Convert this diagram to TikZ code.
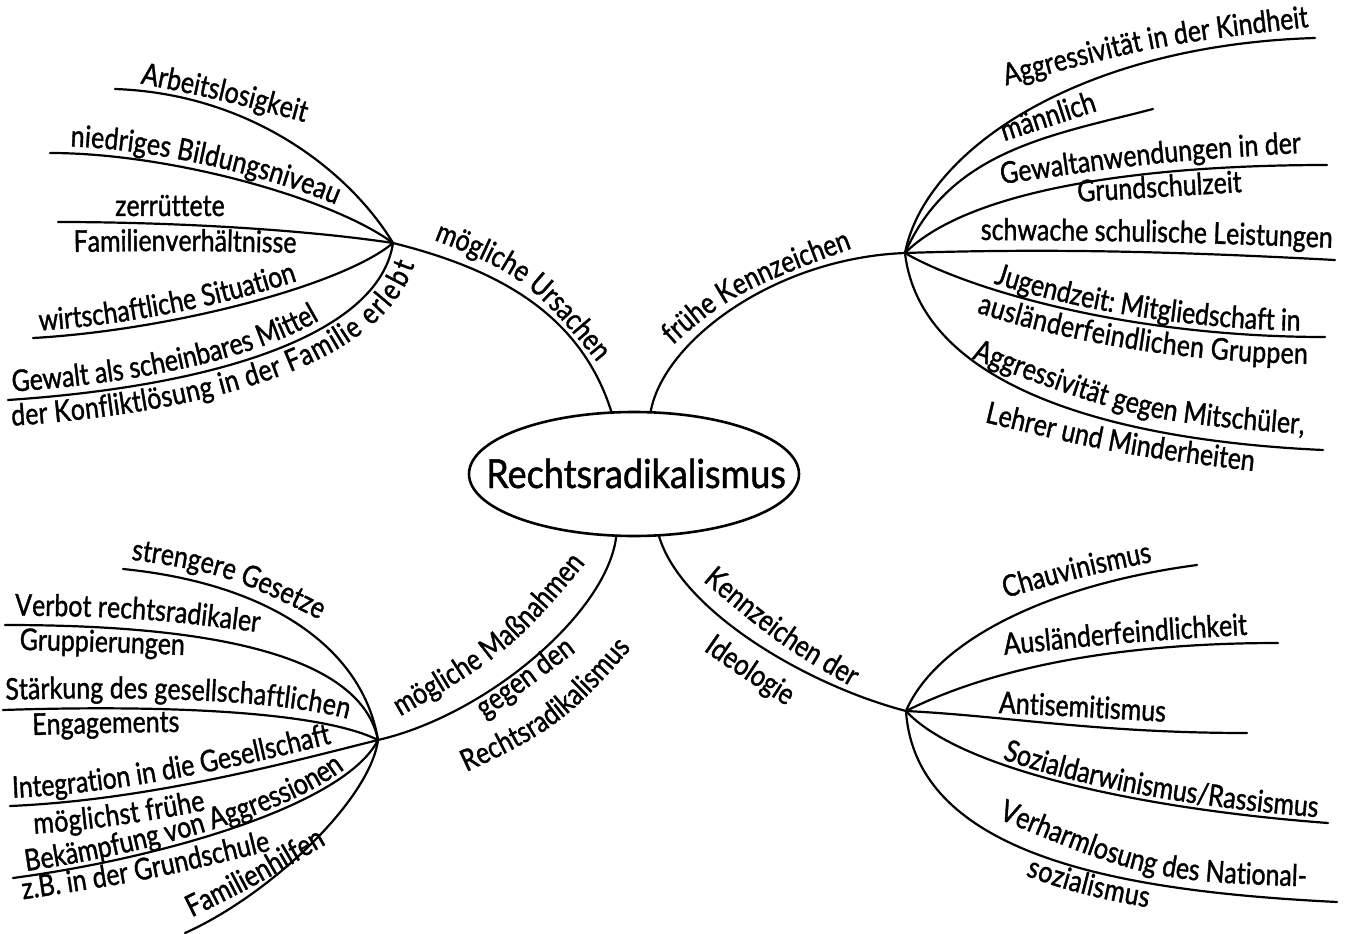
\documentclass[tikz,border=0pt]{standalone}
\usepackage{fontspec}
\setmainfont{Lato}
\newfontfamily\handfont{Lato}[FakeStretch=0.83,FakeBold=1.2]
\newfontfamily\titlefont{Lato}[FakeStretch=0.9,FakeBold=1.2]
\usetikzlibrary{calc,decorations.text,shapes.geometric}
\newcommand\labfont{\handfont\fontsize{30}{32}\selectfont}
% label along its own curved baseline: start, middle, end, text
\newcommand\lbl[4]{%
  \coordinate (ls) at ($(#1)!-30pt!(#2)$);
  \coordinate (le) at ($(#3)!-30pt!(#2)$);
  \path[decorate,decoration={text along path,text align=center,text={|\labfont|#4}}]
    (ls) .. controls ($1.33333*(#2)-0.166667*(ls)-0.166667*(le)$) .. (le);
}
\tikzset{
  br/.style={draw,line width=2.2pt,line cap=round},
  ol/.style n args={3}{postaction={decorate,decoration={text along path,raise=#1,text align={#2},text={|\labfont|#3}}}},
  rootshape/.style={ellipse,draw,line width=2.6pt,minimum width=330pt,minimum height=124pt,inner sep=0pt,outer sep=0pt},
  titletext/.style={font=\titlefont\fontsize{40}{42}\selectfont,anchor=base,inner sep=0pt}
}
\begin{document}
\begin{tikzpicture}[x=1pt,y=-1pt]
\fill[white] (0,0) rectangle (1350,934);
\useasboundingbox (0,0) rectangle (1350,934);

% centre
\node[rootshape] (root) at (634,474) {};
\node[titletext] (title) at (636,488) {Rechtsradikalismus};

% hubs
\coordinate (H1) at (393,243);
\coordinate (H2) at (905,253);
\coordinate (H3) at (378,740);
\coordinate (H4) at (906,711);

% main branches
\draw[br] (H1) .. controls (493,268) and (580,311) .. (root.110);
\draw[br] (root.75) .. controls (663,341) and (775,258) .. (H2);
\draw[br] (H3) .. controls (487,715) and (608,612) .. (root.254);
\draw[br] (root.292) .. controls (680,610) and (806,685) .. (H4);

% upper left
\coordinate (a1) at (115,89);
\coordinate (a2) at (50,153);
\coordinate (a3) at (58,222);
\coordinate (a4) at (33,338);
\coordinate (a5) at (8,400);
\draw[br] (a1) .. controls (255,94) and (352,175) .. (H1);
\draw[br,ol={7pt}{left indent=20pt}{niedriges Bildungsniveau}] (a2) .. controls (170,153) and (332,198) .. (H1);
\draw[br] (a3) .. controls (158,222) and (293,228) .. (H1);
\draw[br,ol={7pt}{left indent=7pt}{wirtschaftliche Situation}] (a4) .. controls (173,330) and (343,285) .. (H1);
\draw[br,ol={8pt}{left indent=5pt}{Gewalt als scheinbares Mittel},
         ol={-26pt}{left indent=2pt}{der Konfliktlösung in der Familie erlebt}]
   (a5) .. controls (230,385) and (380,330) .. (H1);

% upper right
\coordinate (b1) at (1315,38);
\coordinate (b2) at (1153,109);
\coordinate (b3) at (1327,165);
\coordinate (b4) at (1335,260);
\coordinate (b5) at (1325,337);
\coordinate (b6) at (1323,450);
\draw[br] (H2) .. controls (925,150) and (1080,45) .. (b1);
\draw[br] (H2) .. controls (950,150) and (1053,135) .. (b2);
\draw[br] (H2) .. controls (965,193) and (1127,165) .. (b3);
\draw[br] (H2) .. controls (1055,248) and (1185,252) .. (b4);
\draw[br,ol={6pt}{right,right indent=25pt}{Jugendzeit: Mitgliedschaft in},
         ol={-27pt}{right,right indent=17pt}{ausländerfeindlichen Gruppen}]
   (H2) .. controls (965,288) and (1125,337) .. (b5);
\draw[br] (H2) .. controls (920,383) and (1103,440) .. (b6);

% lower left
\coordinate (c1) at (123,569);
\coordinate (c2) at (5,625);
\coordinate (c3) at (3,710);
\coordinate (c4) at (10,806);
\coordinate (c5) at (13,878);
\coordinate (c6) at (185,933);
\draw[br] (c1) .. controls (273,584) and (363,650) .. (H3);
\draw[br] (c2) .. controls (155,625) and (358,640) .. (H3);
\draw[br,ol={10pt}{left indent=3pt}{Stärkung des gesellschaftlichen}] (c3) .. controls (153,705) and (318,710) .. (H3);
\draw[br,ol={8pt}{left indent=3pt}{Integration in die Gesellschaft},
         ol={-29pt}{left indent=22pt}{möglichst frühe}]
   (c4) .. controls (150,800) and (290,762) .. (H3);
\draw[br,ol={5pt}{left indent=14pt}{Bekämpfung von Aggressionen}]
   (c5) .. controls (163,858) and (345,805) .. (H3);
\draw[br] (c6) .. controls (270,895) and (370,800) .. (H3);

% lower right
\coordinate (d1) at (1197,565);
\coordinate (d2) at (1278,643);
\coordinate (d3) at (1247,733);
\coordinate (d4) at (1328,823);
\coordinate (d5) at (1337,902);
\draw[br] (H4) .. controls (936,641) and (1047,585) .. (d1);
\draw[br] (H4) .. controls (966,681) and (1078,643) .. (d2);
\draw[br] (H4) .. controls (1006,716) and (1097,733) .. (d3);
\draw[br,ol={5pt}{right,right indent=11pt}{Sozialdarwinismus/Rassismus}] (H4) .. controls (956,766) and (1128,808) .. (d4);
\draw[br,ol={-24pt}{right,right indent=186pt}{sozialismus}] (H4) .. controls (916,861) and (1137,892) .. (d5);

% main labels
\lbl{423,238}{522,283}{603,372}{mögliche Ursachen}
\lbl{665,355}{738,296}{864,245}{frühe Kennzeichen}
\lbl{388,722}{506,648}{593,552}{mögliche Maßnahmen}
\lbl{483,720}{530,686}{578,650}{gegen den}
\lbl{445,780}{557,722}{645,630}{Rechtsradikalismus}
\lbl{705,582}{780,643}{850,685}{Kennzeichen der}
\lbl{703,650}{745,679}{787,706}{Ideologie}

% upper left labels
\lbl{142,84}{223,101}{303,122}{Arbeitslosigkeit}
\lbl{110,216}{170,216}{230,216}{zerrüttete}
\lbl{77,252}{185,251}{293,253}{Familienverhältnisse}

% upper right labels
\lbl{1010,85}{1157,48}{1305,28}{Aggressivität in der Kindheit}
\lbl{1008,140}{1051,126}{1094,112}{männlich}
\lbl{998,185}{1152,164}{1305,153}{Gewaltanwendungen in der}
\lbl{1077,202}{1160,197}{1243,192}{Grundschulzeit}
\lbl{980,240}{1156,242}{1333,248}{schwache schulische Leistungen}
\lbl{973,358}{1138,414}{1303,433}{Aggressivität gegen Mitschüler,}
\lbl{990,423}{1118,452}{1248,470}{Lehrer und Minderheiten}

% lower left labels
\lbl{132,561}{225,578}{318,620}{strengere Gesetze}
\lbl{12,616}{137,619}{262,633}{Verbot rechtsradikaler}
\lbl{22,650}{102,652}{182,655}{Gruppierungen}
\lbl{37,735}{106,733}{175,732}{Engagements}
\lbl{23,899}{147,879}{271,850}{z.B. in der Grundschule}
\lbl{192,917}{259,883}{326,844}{Familienhilfen}

% lower right labels
\lbl{1010,597}{1079,578}{1148,563}{Chauvinismus}
\lbl{1005,655}{1126,643}{1247,635}{Ausländerfeindlichkeit}
\lbl{997,713}{1082,717}{1167,722}{Antisemitismus}
\lbl{1000,818}{1150,873}{1305,885}{Verharmlosung des National-}
\end{tikzpicture}
\end{document}
